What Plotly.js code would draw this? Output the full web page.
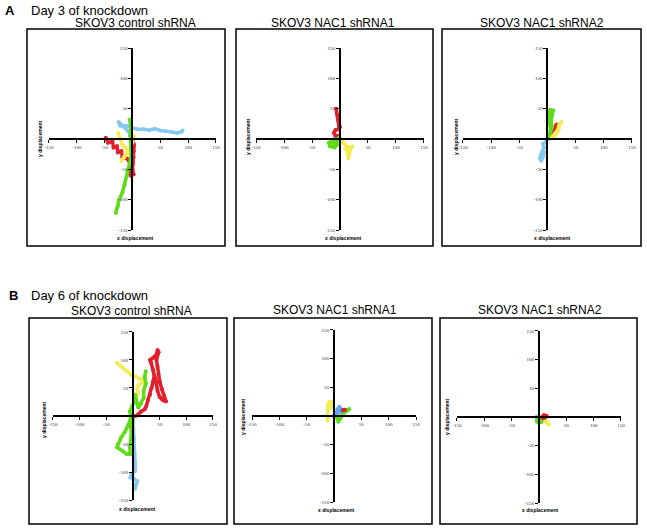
<!DOCTYPE html>
<html>
<head>
<meta charset="utf-8">
<script src="https://cdn.plot.ly/plotly-3.0.1.min.js"></script>
<style>
  html, body { margin: 0; padding: 0; background: #fff; }
  #chart { width: 647px; height: 530px; }
</style>
</head>
<body>
<div id="chart"></div>
<script>
// track data (x / y displacement)
// Day 3 - control shRNA
const a1_blue_x = [0, -5, -15, -25, -22, -10, 0, 10, 20, 30, 40, 50, 60, 70, 80, 88, 90];
const a1_blue_y = [0, 10, 20, 28, 22, 22, 18, 16, 16, 15, 17, 14, 13, 12, 10, 12, 14];
const a1_red_x = [-48, -44, -36, -34, -28, -26, -20, -18, -10, -5, -3, -6, -3, 2, 0, 1, 2, 2, 3, 1];
const a1_red_y = [2, -6, -4, -14, -12, -22, -20, -30, -32, -38, -46, -54, -60, -58, -50, -40, -30, -20, -10, -3];
const a1_yellow_x = [-26, -22, -18, -12, -8, -14, -20, -15, -5, 0, 3];
const a1_yellow_y = [10, 0, -10, -15, -22, -28, -36, -30, -18, -5, 5];
const a1_green_x = [-5, -3, -4, -3, -2, -5, -10, -14, -18, -24, -26, -30];
const a1_green_y = [32, 20, 5, -10, -25, -40, -60, -75, -88, -100, -110, -122];

// Day 3 - NAC1 shRNA1
const a2_blue_x = [0, -4, -8, -10];
const a2_blue_y = [0, 1, 3, 2];
const a2_red_x = [-7, -5, -3, -2, 0, -3, -8, -11, -8, -3, -2];
const a2_red_y = [50, 40, 30, 22, 20, 16, 15, 10, 6, 5, 2];
const a2_yellow_x = [0, 5, 10, 15, 22, 18, 16, 15, 14, 10];
const a2_yellow_y = [0, -6, -10, -14, -12, -18, -25, -32, -24, -16];
const a2_green_x = [0, -5, -12, -20, -18, -10, -6, -12, -4, -2];
const a2_green_y = [0, -2, -3, -6, -12, -14, -10, -8, -4, 2];

// Day 3 - NAC1 shRNA2
const a3_blue_x = [0, -3, -8, -6, -9, -12, -13, -11, -8, -6];
const a3_blue_y = [0, -5, -8, -14, -20, -26, -32, -36, -30, -22];
const a3_red_x = [2, 6, 10, 14, 16, 12];
const a3_red_y = [2, 6, 12, 20, 24, 16];
const a3_yellow_x = [0, 8, 14, 20, 22, 25, 20, 18, 10];
const a3_yellow_y = [0, 4, 10, 18, 26, 28, 22, 12, 2];
const a3_green_x = [0, 3, 6, 4, 2, 3, 5, 10, 8, 6, 8, 5];
const a3_green_y = [0, 8, 15, 25, 32, 42, 48, 47, 38, 28, 20, 12];

// Day 6 - control shRNA
const b1_blue_x = [0, 1, 2, 2, 3, 4, 4, -3, -5, 2, 8, 6, 4];
const b1_blue_y = [-10, -25, -40, -55, -70, -85, -98, -105, -110, -112, -116, -122, -130];
const b1_red_x = [5, 10, 15, 22, 25, 28, 32, 35, 38, 40, 38, 34, 32, 38, 44, 46, 48, 44, 46, 48, 50, 54, 58, 62, 56, 50, 46, 44, 42];
const b1_red_y = [0, 3, 8, 12, 18, 28, 38, 50, 62, 72, 82, 95, 100, 104, 110, 118, 114, 100, 88, 75, 62, 48, 36, 26, 28, 34, 45, 58, 68];
const b1_yellow_x = [-30, -22, -12, -4, 6, 14, 22, 18, 10, 8, 10, 6];
const b1_yellow_y = [95, 88, 80, 74, 70, 66, 64, 60, 55, 48, 40, 32];
const b1_green_x = [24, 22, 24, 20, 20, 15, 10, 6, 4, 2, -2, -6, -4, -6, -10, -15, -22, -28, -30, -20, -12, -5, -6, -4, -3, -6, 0];
const b1_green_y = [80, 70, 58, 45, 32, 22, 15, 28, 38, 25, 15, 8, 0, -10, -18, -28, -38, -50, -56, -62, -68, -68, -55, -40, -25, -15, -5];

// Day 6 - NAC1 shRNA1
const b2_blue_x = [0, 3, 6, 10, 12, 14, 8, 4];
const b2_blue_y = [0, 5, 12, 16, 12, 8, 6, 2];
const b2_red_x = [16, 18, 20];
const b2_red_y = [10, 11, 11];
const b2_yellow_x = [-12, -12, -12, -11, -8, -4, -3, -5];
const b2_yellow_y = [-8, 0, 10, 20, 25, 25, 20, 14];
const b2_green_x = [0, 6, 8, 12, 16, 22, 28, 24, 16];
const b2_green_y = [0, -4, -10, -4, 4, 8, 12, 10, 6];

// Day 6 - NAC1 shRNA2
const b3_blue_x = [0, -3, -5];
const b3_blue_y = [0, 1, 0];
const b3_red_x = [6, 9, 13, 11, 7];
const b3_red_y = [0, 3, 2, -1, -2];
const b3_yellow_x = [6, 10, 14, 18, 15, 11];
const b3_yellow_y = [-4, -7, -10, -13, -9, -6];
const b3_green_x = [0, -3, -4, 0, 4, 5, 1, -2];
const b3_green_y = [-1, -3, -8, -10, -9, -4, -3, -6];

const panelTitles = ['SKOV3 control shRNA', 'SKOV3 NAC1 shRNA1', 'SKOV3 NAC1 shRNA2'];
const tickVals = [-150, -100, -50, 50, 100, 150];

const RED = '#e41e2b', YELLOW = '#f4ec55', GREEN = '#5edc1a', BLUE = '#86c9ef';

const panels = [
  {ax: '', xd: [0.0757, 0.3338], yd: [0.566, 0.9094], tracks: [
    [a1_blue_x, a1_blue_y, BLUE], [a1_red_x, a1_red_y, RED], [a1_yellow_x, a1_yellow_y, YELLOW], [a1_green_x, a1_green_y, GREEN]]},
  {ax: '2', xd: [0.3957, 0.6553], yd: [0.566, 0.9094], tracks: [
    [a2_blue_x, a2_blue_y, BLUE], [a2_red_x, a2_red_y, RED], [a2_yellow_x, a2_yellow_y, YELLOW], [a2_green_x, a2_green_y, GREEN]]},
  {ax: '3', xd: [0.7156, 0.9768], yd: [0.566, 0.9094], tracks: [
    [a3_blue_x, a3_blue_y, BLUE], [a3_red_x, a3_red_y, RED], [a3_yellow_x, a3_yellow_y, YELLOW], [a3_green_x, a3_green_y, GREEN]]},
  {ax: '4', xd: [0.0819, 0.3292], yd: [0.0566, 0.3736], tracks: [
    [b1_blue_x, b1_blue_y, BLUE], [b1_red_x, b1_red_y, RED], [b1_yellow_x, b1_yellow_y, YELLOW], [b1_green_x, b1_green_y, GREEN]]},
  {ax: '5', xd: [0.3895, 0.643], yd: [0.0528, 0.3774], tracks: [
    [b2_yellow_x, b2_yellow_y, YELLOW], [b2_green_x, b2_green_y, GREEN], [b2_blue_x, b2_blue_y, '#62a8ea'], [b2_red_x, b2_red_y, RED]]},
  {ax: '6', xd: [0.7063, 0.9598], yd: [0.0509, 0.3755], tracks: [
    [b3_blue_x, b3_blue_y, BLUE], [b3_yellow_x, b3_yellow_y, YELLOW], [b3_green_x, b3_green_y, GREEN], [b3_red_x, b3_red_y, RED]]}
];

const W = 647, H = 530;
const px = v => v / W;
const py = v => 1 - v / H;

const data = [];
const layout = {
  width: W, height: H,
  margin: {l: 0, r: 0, t: 0, b: 0},
  paper_bgcolor: '#fff', plot_bgcolor: 'rgba(0,0,0,0)',
  showlegend: false,
  font: {family: 'Liberation Sans, Arial, sans-serif', color: '#000'},
  shapes: [], annotations: []
};

panels.forEach(p => {
  p.tracks.forEach(t => {
    data.push({
      x: t[0], y: t[1], type: 'scatter', mode: 'lines+markers',
      line: {color: t[2], width: 3.5},
      marker: {color: t[2], size: 4},
      xaxis: 'x' + p.ax, yaxis: 'y' + p.ax, hoverinfo: 'skip'
    });
  });
  const axStyle = {
    range: [-150, 150], showgrid: false, zeroline: false,
    showline: true, linecolor: '#000', linewidth: 2,
    ticks: 'outside', ticklen: 3, tickwidth: 1, tickcolor: '#000',
    tickvals: tickVals, ticktext: tickVals.map(String),
    tickfont: {family: 'Liberation Serif, serif', size: 5, color: '#333'},
    fixedrange: true
  };
  layout['xaxis' + p.ax] = Object.assign({}, axStyle, {
    domain: p.xd, anchor: 'free', position: (p.yd[0] + p.yd[1]) / 2
  });
  layout['yaxis' + p.ax] = Object.assign({}, axStyle, {
    domain: p.yd, anchor: 'free', position: (p.xd[0] + p.xd[1]) / 2
  });
});

// panel frames
const boxes = [[27, 225, 29, 246], [236, 433, 29, 246], [442, 641, 29, 246],
               [29, 227, 318, 524], [234, 432, 318, 524], [440, 637, 318, 524]];
boxes.forEach(b => {
  layout.shapes.push({type: 'rect', xref: 'paper', yref: 'paper',
    x0: px(b[0]), x1: px(b[1]), y0: py(b[3]), y1: py(b[2]),
    line: {color: '#000', width: 1.5}});
});

function addText(text, x, y, opts) {
  layout.annotations.push(Object.assign({
    text: text, xref: 'paper', yref: 'paper', x: px(x), y: py(y),
    xanchor: 'center', yanchor: 'middle', showarrow: false,
    font: {size: 12, color: '#000', family: 'Liberation Sans, Arial, sans-serif'}
  }, opts || {}));
}

// section headings
addText('<b>A</b>', 10, 11, {font: {size: 13, family: 'Liberation Sans, Arial, sans-serif'}});
addText('Day 3 of knockdown', 29, 11, {xanchor: 'left', font: {size: 13, family: 'Liberation Sans, Arial, sans-serif'}});
addText('<b>B</b>', 13, 295, {font: {size: 13, family: 'Liberation Sans, Arial, sans-serif'}});
addText('Day 6 of knockdown', 29, 295, {xanchor: 'left', font: {size: 13, family: 'Liberation Sans, Arial, sans-serif'}});

// panel titles
const titlePos = [[135, 23], [333, 23], [542, 23], [131, 311], [335, 310], [540, 310]];
titlePos.forEach((t, i) => addText(panelTitles[i % 3], t[0], t[1],
  {font: {size: 12, family: 'Liberation Sans, Arial, sans-serif'}}));

// axis titles
const xTitlePos = [[135, 238], [343, 238], [552, 238], [137, 509], [336, 510], [540, 510]];
const yTitlePos = [[40, 139], [248, 137], [456, 137], [44, 420], [243, 417], [447, 417]];
xTitlePos.forEach(t => addText('<b>x displacement</b>', t[0], t[1],
  {font: {size: 5, family: 'Liberation Sans, Arial, sans-serif'}}));
yTitlePos.forEach(t => addText('<b>y displacement</b>', t[0], t[1],
  {textangle: -90, font: {size: 5, family: 'Liberation Sans, Arial, sans-serif'}}));

Plotly.newPlot('chart', data, layout, {staticPlot: true});
</script>
</body>
</html>
